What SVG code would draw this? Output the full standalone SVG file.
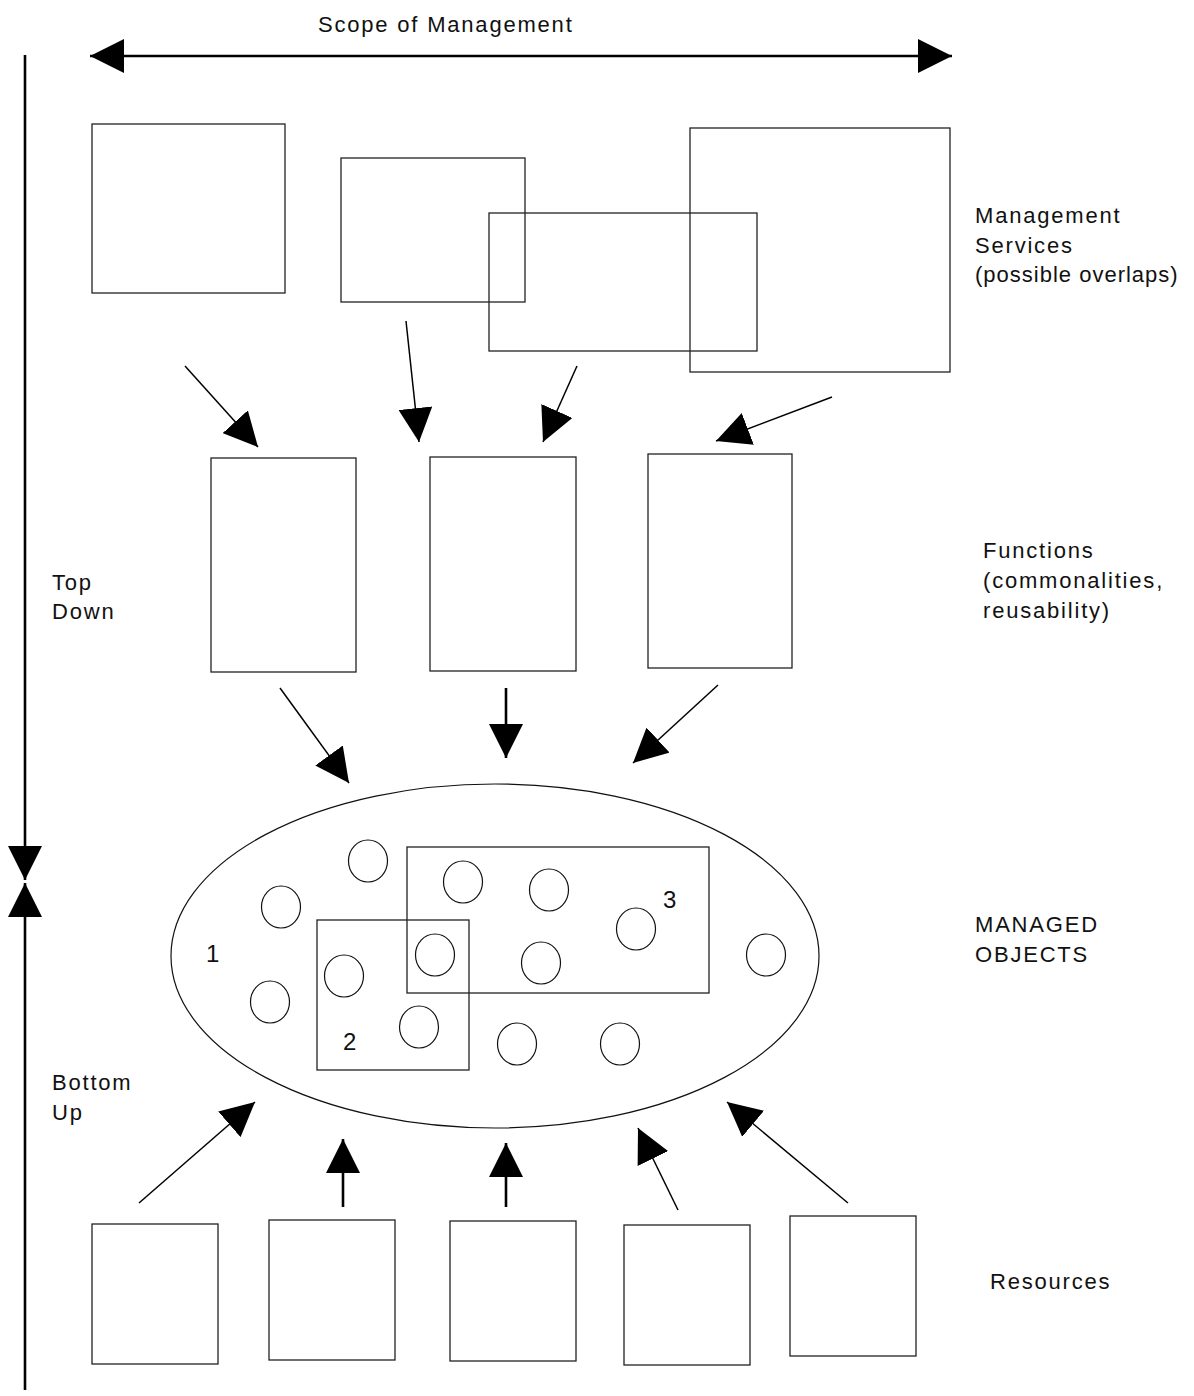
<svg xmlns="http://www.w3.org/2000/svg" width="1194" height="1396" viewBox="0 0 1194 1396">
<style>
.box{fill:none;stroke:#222;stroke-width:1.3}
.obj{fill:none;stroke:#111;stroke-width:1.2}
.thin{stroke:#000;stroke-width:1.5;fill:none}
.thick{stroke:#000;stroke-width:2.6;fill:none}
.lbl{font-family:"Liberation Sans",Arial,sans-serif;font-size:22px;letter-spacing:1.8px;fill:#111}
.num{font-family:"Liberation Sans",Arial,sans-serif;font-size:24px;fill:#111}
</style>
<defs>
<marker id="ah" markerUnits="userSpaceOnUse" markerWidth="34" markerHeight="34" viewBox="0 0 32 32" refX="32" refY="16" orient="auto-start-reverse">
<path d="M0,0 L32,16 L0,32 z" fill="#000"/>
</marker>
</defs>
<rect width="1194" height="1396" fill="#fff"/>

<g id="scope">
<line class="thick" x1="90" y1="56" x2="952" y2="56" marker-start="url(#ah)" marker-end="url(#ah)"/>
<text class="lbl" x="318" y="32">Scope of Management</text>
</g>

<g id="axis">
<line class="thick" x1="25" y1="55" x2="25" y2="880" marker-end="url(#ah)"/>
<line class="thick" x1="25" y1="1390" x2="25" y2="883" marker-end="url(#ah)"/>
<text class="lbl" x="52" y="590">Top</text>
<text class="lbl" x="52" y="619">Down</text>
<text class="lbl" x="52" y="1090">Bottom</text>
<text class="lbl" x="52" y="1120">Up</text>
</g>

<g id="services">
<rect class="box" x="92" y="124" width="193" height="169"/>
<rect class="box" x="341" y="158" width="184" height="144"/>
<rect class="box" x="489" y="213" width="268" height="138"/>
<rect class="box" x="690" y="128" width="260" height="244"/>
<text class="lbl" x="975" y="223">Management</text>
<text class="lbl" x="975" y="253">Services</text>
<text class="lbl" x="975" y="282" style="letter-spacing:1px">(possible overlaps)</text>
</g>

<g id="functions">
<rect class="box" x="211" y="458" width="145" height="214"/>
<rect class="box" x="430" y="457" width="146" height="214"/>
<rect class="box" x="648" y="454" width="144" height="214"/>
<text class="lbl" x="983" y="558">Functions</text>
<text class="lbl" x="983" y="588">(commonalities,</text>
<text class="lbl" x="983" y="618">reusability)</text>
</g>

<g id="managed-objects">
<ellipse class="obj" cx="495" cy="956" rx="324" ry="172" stroke-width="1.4"/>
<rect class="box" x="407" y="847" width="302" height="146"/>
<rect class="box" x="317" y="920" width="152" height="150"/>
<ellipse class="obj" cx="368" cy="861" rx="19.5" ry="21"/>
<ellipse class="obj" cx="281" cy="907" rx="19.5" ry="21"/>
<ellipse class="obj" cx="270" cy="1002" rx="19.5" ry="21"/>
<ellipse class="obj" cx="344" cy="976" rx="19.5" ry="21"/>
<ellipse class="obj" cx="435" cy="955" rx="19.5" ry="21"/>
<ellipse class="obj" cx="419" cy="1027" rx="19.5" ry="21"/>
<ellipse class="obj" cx="463" cy="882" rx="19.5" ry="21"/>
<ellipse class="obj" cx="517" cy="1044" rx="19.5" ry="21"/>
<ellipse class="obj" cx="549" cy="890" rx="19.5" ry="21"/>
<ellipse class="obj" cx="541" cy="963" rx="19.5" ry="21"/>
<ellipse class="obj" cx="636" cy="929" rx="19.5" ry="21"/>
<ellipse class="obj" cx="766" cy="955" rx="19.5" ry="21"/>
<ellipse class="obj" cx="620" cy="1044" rx="19.5" ry="21"/>
<text class="num" x="206" y="962">1</text>
<text class="num" x="343" y="1050">2</text>
<text class="num" x="663" y="908">3</text>
<text class="lbl" x="975" y="932">MANAGED</text>
<text class="lbl" x="975" y="962">OBJECTS</text>
</g>

<g id="resources">
<rect class="box" x="92" y="1224" width="126" height="140"/>
<rect class="box" x="269" y="1220" width="126" height="140"/>
<rect class="box" x="450" y="1221" width="126" height="140"/>
<rect class="box" x="624" y="1225" width="126" height="140"/>
<rect class="box" x="790" y="1216" width="126" height="140"/>
<text class="lbl" x="990" y="1289">Resources</text>
</g>

<g id="connectors">
<line class="thin" x1="185" y1="366" x2="258" y2="447" marker-end="url(#ah)"/>
<line class="thin" x1="406" y1="321" x2="419" y2="442" marker-end="url(#ah)"/>
<line class="thin" x1="577" y1="366" x2="543" y2="442" marker-end="url(#ah)"/>
<line class="thin" x1="832" y1="397" x2="716" y2="441" marker-end="url(#ah)"/>
<line class="thin" x1="280" y1="688" x2="349" y2="783" marker-end="url(#ah)"/>
<line class="thick" x1="506" y1="688" x2="506" y2="758" marker-end="url(#ah)"/>
<line class="thin" x1="718" y1="685" x2="633" y2="763" marker-end="url(#ah)"/>
<line class="thin" x1="139" y1="1203" x2="255" y2="1102" marker-end="url(#ah)"/>
<line class="thick" x1="343" y1="1207" x2="343" y2="1139" marker-end="url(#ah)"/>
<line class="thick" x1="506" y1="1207" x2="506" y2="1143" marker-end="url(#ah)"/>
<line class="thin" x1="678" y1="1210" x2="638" y2="1128" marker-end="url(#ah)"/>
<line class="thin" x1="848" y1="1203" x2="727" y2="1102" marker-end="url(#ah)"/>
</g>
</svg>
